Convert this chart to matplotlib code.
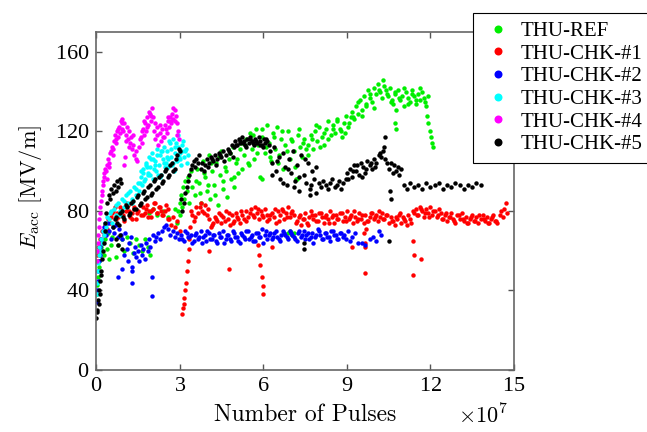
import numpy as np
import matplotlib
matplotlib.use('Agg')
import matplotlib.pyplot as plt

plt.rcParams['mathtext.fontset'] = 'cm'
plt.rcParams['axes.formatter.use_mathtext'] = True

# x in units of 1e7 pulses, y = Eacc in MV/m
ref_x = [0.02, 0.04, 0.06, 0.09, 0.12, 0.15, 0.18, 0.22, 0.26, 0.30, 0.34, 0.38, 0.43, 0.48, 0.53, 0.58,
         0.70, 0.80, 0.92, 1.02, 1.12, 1.22, 1.33, 1.45, 1.56, 1.66, 1.76, 1.86, 1.95,
         1.90, 2.05, 2.20, 2.40, 2.60, 2.85,
         2.92, 2.96, 3.00, 3.03, 3.06, 3.10, 3.13, 3.17, 3.20, 3.25, 3.30, 3.35, 3.40, 3.45,
         3.55, 3.62, 3.70, 3.76, 3.83, 3.90, 3.97, 4.04, 4.10, 4.17, 4.24, 4.30, 4.37, 4.44, 4.50, 4.57,
         4.63, 4.70, 4.77, 4.84, 4.90, 4.97, 5.04, 5.10, 5.17, 5.24,
         3.58, 3.73, 3.87, 4.01, 4.14, 4.28, 4.41, 4.54, 4.67, 4.81, 4.94, 5.07, 5.20,
         5.30, 5.38, 5.45, 5.52, 5.60, 5.68, 5.75, 5.82, 5.90, 5.97, 6.05, 6.12, 6.20, 6.28, 6.35, 6.42,
         6.50, 6.58, 6.65, 6.72, 6.80, 6.88, 6.95, 7.02, 7.10, 7.18, 7.25, 7.33, 7.40, 7.48, 7.55,
         7.62, 7.70, 7.78, 7.86, 7.94, 8.02, 8.10, 8.18, 8.26, 8.34, 8.42, 8.50, 8.58, 8.66, 8.74, 8.82,
         8.90, 8.98, 9.06, 9.14,
         9.20, 9.27, 9.34, 9.41, 9.48, 9.55, 9.62, 9.69, 9.76, 9.83, 9.90, 9.97, 10.04, 10.11, 10.18,
         10.25, 10.32, 10.40, 10.47, 10.55, 10.62,
         10.66, 10.72, 10.78, 10.85, 10.92, 10.99, 11.06, 11.13, 11.20, 11.27, 11.34, 11.41, 11.48, 11.55,
         11.62, 11.69, 11.76, 11.83, 11.90,
         5.34, 5.49, 5.64, 5.79, 5.94, 6.09, 6.24, 6.39, 6.54, 6.69, 6.84, 6.99, 7.14, 7.29, 7.44,
         7.59, 7.74, 7.89, 8.04, 8.19, 8.34, 8.49, 8.64, 8.79, 8.94, 9.09, 9.24, 9.39, 9.54, 9.69,
         9.84, 9.99, 10.14, 10.29, 10.44, 10.59, 10.74, 10.89, 11.04, 11.19, 11.34, 11.49, 11.64, 11.79,
         11.88, 11.93, 11.97, 12.02, 12.06, 12.10,
         10.72, 10.76, 7.20, 5.95, 6.90, 6.95, 7.00, 7.05, 7.10]
ref_y = [38, 43, 47, 52, 55, 58, 62, 60, 64, 58, 66, 61, 69, 56, 63, 67,
         57, 63, 66, 60, 67, 64, 59, 66, 63, 60, 66, 62, 58,
         79, 81, 78, 80, 77, 81,
         74, 80, 84, 78, 88, 82, 92, 86, 95, 90, 97, 84, 100, 92,
         88, 101, 94, 84, 105, 97, 90, 108, 86, 100, 93, 104, 83, 98, 110, 91,
         102, 87, 106, 96, 112, 92, 104, 99, 111, 101,
         95, 89, 99, 93, 104, 88, 107, 95, 100, 109, 97, 106, 114,
         108, 116, 104, 119, 111, 106, 121, 113, 97, 117, 109, 123, 114, 105, 119, 111,
         122, 108, 116, 101, 113, 120, 106, 115, 110, 96, 118, 112, 107, 116, 111,
         113, 118, 111, 120, 115, 122, 117, 113, 121, 125, 118, 123, 119, 126, 121, 117,
         124, 128, 122, 127,
         130, 126, 133, 129, 136, 131, 138, 134, 141, 137, 135, 142, 139, 144, 140,
         137, 143, 141, 138, 142, 136,
         134, 139, 131, 141, 136, 138, 133, 140, 137, 135, 141, 138, 134, 139,
         136, 140, 137, 133, 138,
         113, 103, 118, 109, 121, 112, 107, 117, 104, 120, 110, 116, 102, 121, 114,
         108, 116, 123, 112, 119, 116, 121, 125, 120, 119, 124, 127, 135, 128, 133,
         139, 132, 141, 146, 139, 135, 140, 137, 142, 134, 139, 136, 142, 135,
         128, 124, 120, 117, 114, 112,
         124, 121, 96, 96, 69, 70, 69, 68, 69]

chk1_x = [0.02, 0.05, 0.08, 0.11, 0.15, 0.19, 0.23, 0.28, 0.33, 0.38, 0.44, 0.50,
          0.55, 0.62, 0.70, 0.77, 0.85, 0.92, 1.00, 1.07, 1.15, 1.22, 1.30, 1.37, 1.45, 1.52,
          1.60, 1.67, 1.75, 1.82, 1.90, 1.97, 2.05, 2.12, 2.20, 2.27, 2.35, 2.42, 2.50, 2.57,
          0.58, 0.68, 0.78, 0.88, 0.98, 1.08, 1.18, 1.28, 1.38, 1.48, 1.58, 1.68, 1.78, 1.88,
          1.98, 2.08, 2.18, 2.28, 2.38, 2.48, 2.58,
          2.63, 2.70, 2.78, 2.85, 2.92, 3.00,
          3.10, 3.12, 3.14, 3.17, 3.20, 3.23, 3.26, 3.29, 3.32, 3.35,
          3.38, 3.45, 3.52, 3.60, 3.67, 3.75, 3.82, 3.90, 3.97, 4.05, 4.12, 4.20,
          4.27, 4.35, 4.42, 4.50, 4.57, 4.65, 4.72, 4.80, 4.87, 4.95, 5.02, 5.10, 5.17,
          5.25, 5.32, 5.40, 5.47, 5.55, 5.62, 5.70, 5.77, 5.85, 5.92, 6.00, 6.07, 6.15,
          3.42, 3.57, 3.72, 3.87, 4.02, 4.17, 4.32, 4.47, 4.62, 4.77, 4.92, 5.07, 5.22, 5.37,
          5.52, 5.67, 5.82, 5.97, 6.12,
          5.80, 5.85, 5.90, 5.95, 5.98, 6.01, 4.77, 4.05, 6.30,
          6.22, 6.30, 6.37, 6.45, 6.52, 6.60, 6.67, 6.75, 6.82, 6.90, 6.97, 7.05, 7.12, 7.20,
          7.27, 7.35, 7.42, 7.50, 7.57, 7.65, 7.72, 7.80, 7.87, 7.95, 8.02, 8.10, 8.17, 8.25,
          8.32, 8.40, 8.47, 8.55, 8.62, 8.70, 8.77, 8.85, 8.92, 9.00, 9.07, 9.15, 9.22, 9.30,
          9.37, 9.45,
          9.18, 9.62, 9.65, 9.66, 9.64, 9.70, 11.37, 11.40, 11.38, 11.66,
          9.52, 9.60, 9.67, 9.75, 9.82, 9.90, 9.97, 10.05, 10.12, 10.20, 10.27, 10.35, 10.42,
          10.50, 10.57, 10.65, 10.72, 10.80, 10.87, 10.95, 11.02, 11.10, 11.17, 11.25, 11.32,
          11.40, 11.47, 11.55, 11.62, 11.70, 11.77, 11.85, 11.92, 12.00, 12.07, 12.15, 12.22,
          12.30, 12.37, 12.45, 12.52, 12.60, 12.67, 12.75, 12.82, 12.90, 12.97, 13.05, 13.12,
          13.20, 13.27, 13.35, 13.42, 13.50, 13.57, 13.65, 13.72, 13.80, 13.87, 13.95, 14.02,
          14.10, 14.17, 14.25, 14.32, 14.40,
          6.26, 6.41, 6.56, 6.71, 6.86, 7.01, 7.16, 7.31, 7.46, 7.61, 7.76, 7.91, 8.06, 8.21,
          8.36, 8.51, 8.66, 8.81, 8.96, 9.11, 9.26, 9.41, 9.56, 9.71, 9.86, 10.01, 10.16, 10.31,
          10.46, 10.61, 10.76, 10.91, 11.06, 11.21, 11.36, 11.51, 11.66, 11.81, 11.96, 12.11,
          12.26, 12.41, 12.56, 12.71, 12.86, 13.01, 13.16, 13.31, 13.46, 13.61, 13.76, 13.91,
          14.06, 14.21, 14.36,
          14.48, 14.55, 14.60, 14.65, 14.70, 14.75]
chk1_y = [55, 58, 62, 60, 66, 64, 70, 68, 73, 71, 76, 74,
          77, 80, 76, 79, 82, 78, 75, 80, 83, 77, 79, 81, 76, 80,
          78, 82, 79, 83, 80, 77, 81, 84, 79, 82, 80, 78, 83, 81,
          79, 82, 77, 81, 78, 84, 80, 76, 82, 79, 83, 78, 81, 77,
          80, 84, 79, 82, 78, 80, 76,
          76, 73, 77, 72, 75, 70,
          28, 31, 33, 36, 40, 44, 50, 55, 61, 66,
          72, 78, 75, 82, 79, 84, 80, 83, 78, 76, 72, 74,
          77, 75, 79, 74, 77, 80, 76, 73, 78, 75, 79, 76, 74,
          78, 76, 80, 77, 81, 78, 82, 79, 76, 80, 77, 81, 78,
          80, 77, 82, 79, 81, 73, 76, 78, 75, 79, 74, 77, 80, 75,
          79, 77, 81, 78, 75,
          63, 58, 53, 47, 42, 38, 51, 60, 62,
          76, 79, 77, 74, 80, 78, 81, 76, 79, 82, 77, 80, 78, 75,
          77, 73, 76, 79, 74, 77, 80, 76, 78, 75, 79, 77, 74, 78,
          76, 80, 77, 74, 78, 76, 79, 75, 77, 80, 76, 78, 74, 77,
          75, 79,
          62, 69, 64, 62, 49, 71, 65, 58, 48, 56,
          76, 74, 78, 75, 77, 79, 76, 78, 75, 77, 79, 76, 78,
          74, 77, 75, 73, 76, 78, 74, 77, 75, 73, 76, 74,
          79, 81, 78, 82, 80, 77, 81, 79, 82, 78, 80, 77,
          81, 79, 76, 78, 75, 77, 79, 76, 74, 78, 76, 79,
          75, 77, 74, 76, 78, 75, 77, 74, 76, 78, 75, 77,
          74, 76, 78, 75, 74,
          78, 81, 75, 80, 77, 79, 74, 78, 76, 73, 78, 75, 79, 77,
          74, 78, 76, 79, 75, 77, 80, 76, 78, 75, 79, 77, 80, 76,
          78, 75, 77, 79, 76, 78, 80, 78, 81, 79, 77, 80,
          78, 76, 79, 77, 75, 78, 76, 74, 77, 75, 78, 76,
          74, 77, 75,
          78, 80, 77, 81, 84, 79]

chk2_x = [0.02, 0.04, 0.06, 0.08, 0.10, 0.13, 0.16, 0.19, 0.22, 0.26,
          0.30, 0.36, 0.42, 0.48, 0.54, 0.60, 0.66, 0.72, 0.78, 0.84, 0.90,
          0.95, 1.00, 1.05, 1.10, 1.15, 1.20, 1.25, 1.30, 1.35, 1.40, 1.45, 1.50, 1.55,
          1.60, 1.65, 1.70, 1.75, 1.80, 1.85, 1.90, 1.95, 2.00, 2.02, 2.05, 2.10,
          0.80, 0.92, 1.28, 1.30,
          2.15, 2.22, 2.30, 2.37, 2.45, 2.52, 2.60, 2.67, 2.75, 2.82, 2.90, 2.97,
          3.05, 3.15, 3.25, 3.35, 3.45, 3.55, 3.65, 3.75, 3.85, 3.95, 4.05, 4.15, 4.25, 4.35,
          4.45, 4.55, 4.65, 4.75, 4.85, 4.95, 5.05, 5.15, 5.25, 5.35, 5.45, 5.55, 5.65, 5.75,
          5.85, 5.95, 6.05, 6.15, 6.25, 6.35, 6.45, 6.55, 6.65, 6.75, 6.85, 6.95, 7.05, 7.15,
          7.25, 7.35, 7.45, 7.55, 7.65, 7.75, 7.85, 7.95, 8.05, 8.15, 8.25, 8.35, 8.45, 8.55,
          8.65, 8.75, 8.85,
          3.10, 3.20, 3.30, 3.40, 3.50, 3.60, 3.70, 3.80, 3.90, 4.00, 4.10, 4.20, 4.30, 4.40,
          4.50, 4.60, 4.70, 4.80, 4.90, 5.00, 5.10, 5.20, 5.30, 5.40, 5.50, 5.60, 5.70, 5.80,
          5.90, 6.00, 6.10, 6.20, 6.30, 6.40, 6.50, 6.60, 6.70, 6.80, 6.90, 7.00, 7.10, 7.20,
          7.30, 7.40, 7.50, 7.60, 7.70, 7.80, 7.90, 8.00, 8.10, 8.20, 8.30, 8.40, 8.50, 8.60,
          8.70, 8.80,
          8.90, 8.97, 9.05, 9.12, 9.20, 9.30, 9.40, 9.55, 9.65, 9.85, 9.95, 10.05, 10.15, 10.22]
chk2_y = [34, 40, 45, 50, 55, 58, 62, 66, 64, 70,
          72, 68, 74, 70, 66, 72, 69, 73, 67, 71, 68,
          66, 58, 69, 61, 55, 64, 67, 52, 59, 62, 57, 60, 55,
          63, 58, 61, 56, 64, 60, 66, 62, 47, 37, 68, 65,
          47, 51, 50, 44,
          67, 69, 66, 70, 72, 73, 71, 68, 70, 67, 69, 66,
          68, 65, 69, 67, 64, 68, 66, 70, 67, 65, 69, 66, 68, 64,
          67, 70, 66, 68, 65, 69, 67, 64, 68, 66, 70, 67, 65, 69,
          67, 71, 68, 66, 69, 67, 70, 66, 68, 69, 67, 70, 68, 66,
          69, 67, 70, 68, 66, 69, 67, 71, 68, 66, 69, 67, 70, 68,
          66, 69, 67,
          66, 70, 67, 68, 65, 69, 67, 64, 68, 70, 66, 68, 65, 69,
          67, 64, 68, 66, 70, 67, 65, 69, 67, 70, 66, 68, 65, 69,
          67, 64, 70, 68, 66, 69, 67, 65, 70, 68, 66, 69, 67, 65,
          70, 68, 66, 69, 67, 64, 68, 70, 66, 69, 67, 65, 70, 68,
          66, 69,
          68, 66, 70, 65, 67, 69, 64, 64, 63, 66, 67, 65, 70, 68]

chk3_x = [0.02, 0.04, 0.06, 0.08, 0.10, 0.12, 0.15, 0.18, 0.21, 0.24, 0.28, 0.32, 0.36, 0.40,
          0.45, 0.52, 0.59, 0.66, 0.73, 0.80, 0.87, 0.94, 1.01, 1.08, 1.15, 1.22, 1.29, 1.36,
          1.43, 1.50,
          1.55, 1.60, 1.65, 1.70, 1.75, 1.80, 1.85, 1.90, 1.95, 2.00, 2.05, 2.10, 2.15, 2.20,
          2.25, 2.30, 2.35, 2.40, 2.45, 2.50,
          2.55, 2.60, 2.65, 2.70, 2.75, 2.80, 2.85, 2.90, 2.95, 3.00, 3.05, 3.10, 3.15, 3.20,
          3.25, 3.30,
          1.58, 1.68, 1.78, 1.88, 1.98, 2.08, 2.18, 2.28, 2.38, 2.48, 2.58, 2.68, 2.78, 2.88,
          2.98, 3.08,
          0.55, 0.70, 0.85, 1.00, 1.15, 1.30, 1.45, 1.62, 1.72, 1.83, 1.93, 2.03, 2.13, 2.23,
          2.33, 2.43, 2.53, 2.63, 2.73, 2.83, 2.93, 3.03, 3.13, 3.23]
chk3_y = [38, 44, 50, 54, 58, 62, 60, 66, 64, 70, 68, 74, 72, 77,
          76, 79, 74, 81, 78, 84, 80, 86, 82, 88, 84, 90, 86, 92,
          88, 94,
          90, 97, 93, 101, 96, 104, 99, 107, 102, 109, 96, 105, 100, 111,
          103, 108, 98, 106, 112, 104,
          110, 102, 114, 107, 116, 100, 112, 105, 118, 109, 103, 113, 107, 110,
          104, 108,
          94, 99, 103, 98, 106, 101, 108, 97, 110, 102, 106, 111, 104, 114,
          107, 110,
          80, 83, 78, 85, 89, 84, 91, 100, 95, 102, 98, 106, 103, 98,
          110, 104, 107, 115, 103, 109, 112, 106, 115, 111]

chk4_x = [0.02, 0.04, 0.06, 0.08, 0.10, 0.12, 0.14, 0.16, 0.18, 0.20, 0.22, 0.24, 0.26, 0.28,
          0.30, 0.33,
          0.36, 0.40, 0.44, 0.48, 0.52, 0.56, 0.60, 0.64, 0.68, 0.72, 0.76, 0.80, 0.84, 0.88,
          0.92, 0.95,
          0.98, 1.02, 1.06, 1.10, 1.14, 1.18, 1.22, 1.26, 1.30, 1.34, 1.38, 1.42, 1.46, 1.00, 1.04,
          1.55, 1.60, 1.64, 1.68, 1.72, 1.76, 1.80, 1.84, 1.88, 1.92, 1.96, 2.00, 2.04,
          2.08, 2.13, 2.18, 2.23, 2.28, 2.33, 2.38, 2.43, 2.48, 2.53, 2.58,
          2.62, 2.66, 2.70, 2.74, 2.78, 2.82, 2.86, 2.90, 2.94, 2.98,
          0.38, 0.46, 0.54, 0.62, 0.70, 0.78, 0.86, 0.93, 1.08, 1.20, 1.32, 1.44, 1.58, 1.66,
          1.74, 1.82, 1.90, 1.98, 2.10, 2.20, 2.30, 2.40, 2.50, 2.60, 2.68, 2.76, 2.84, 2.92]
chk4_y = [55, 60, 64, 68, 72, 76, 79, 82, 85, 88, 90, 93, 95, 97,
          99, 101,
          100, 103, 106, 102, 109, 112, 108, 115, 118, 114, 120, 117, 122, 125,
          121, 126,
          120, 124, 118, 122, 116, 120, 114, 117, 111, 113, 108, 110, 105, 103, 107,
          112, 117, 114, 121, 118, 124, 120, 127, 123, 129, 125, 132, 127,
          120, 116, 122, 113, 119, 115, 121, 117, 123, 119, 125,
          122, 127, 124, 129, 126, 131, 128, 124, 120, 116,
          96, 104, 110, 111, 116, 121, 119, 124, 115, 112, 118, 106, 116, 120,
          125, 122, 130, 128, 124, 118, 123, 117, 121, 127, 125, 132, 125, 118]

chk5_x = [0.01, 0.03, 0.05, 0.07, 0.09, 0.11, 0.13, 0.15, 0.17, 0.19, 0.22, 0.25, 0.28, 0.31,
          0.34, 0.37,
          0.40, 0.45, 0.50, 0.55, 0.60, 0.65, 0.70, 0.75, 0.80, 0.85, 0.90,
          0.62, 0.72, 0.82, 0.92, 1.02, 1.12, 1.22, 1.32, 1.42, 1.52, 1.62, 1.72, 1.82, 1.92,
          2.02, 2.12, 2.22, 2.32, 2.42, 2.52, 2.62, 2.72, 2.82, 2.92,
          0.70, 0.78, 0.86, 0.94,
          0.67, 0.77, 0.87, 0.97, 1.07, 1.17, 1.27, 1.37, 1.47, 1.57, 1.67, 1.77, 1.87, 1.97,
          2.07, 2.17, 2.27, 2.37, 2.47, 2.57, 2.67, 2.77, 2.87, 2.97,
          3.00, 3.05, 3.10, 3.15, 3.20, 3.25, 3.30, 3.35, 3.40, 3.45, 3.50, 3.55, 3.60, 3.65, 3.70,
          3.75, 3.82, 3.90, 3.97, 4.05, 4.12, 4.20, 4.27, 4.35, 4.42, 4.50, 4.57, 4.65, 4.72,
          4.80, 4.87, 4.95,
          3.86, 4.01, 4.16, 4.31, 4.46, 4.61, 4.76, 4.91,
          5.00, 5.06, 5.12, 5.18, 5.24, 5.30, 5.36, 5.42, 5.48, 5.54, 5.60, 5.66, 5.72, 5.78,
          5.84, 5.90, 5.96, 6.02, 6.08, 6.14, 6.20,
          5.03, 5.15, 5.27, 5.39, 5.51, 5.63, 5.75, 5.87, 5.99, 6.11,
          6.25, 6.32, 6.40, 6.47, 6.55, 6.62, 6.70, 6.77, 6.85, 6.92, 7.00, 7.07, 7.15, 7.22,
          7.30, 7.37, 7.45, 7.52, 7.60, 7.67, 7.75, 7.82, 7.90,
          6.30, 6.50, 6.70, 6.90, 7.10, 7.30, 7.50, 7.70, 7.90,
          8.00, 8.08, 8.16, 8.24, 8.32, 8.40, 8.48, 8.56, 8.64, 8.72, 8.80, 8.88, 8.96,
          9.02, 9.10, 9.18, 9.26, 9.34, 9.42, 9.50, 9.58, 9.66, 9.74, 9.82, 9.90, 9.98, 10.06,
          10.14, 10.22, 10.30, 10.38, 10.46,
          9.06, 9.22, 9.38, 9.54, 9.70, 9.86, 10.02, 10.18, 10.34,
          10.52, 10.58, 10.64, 10.70, 10.76, 10.82, 10.88, 10.94,
          11.05, 11.15, 11.25, 11.40, 11.55, 11.70, 11.85, 12.00, 12.15, 12.30, 12.45, 12.60,
          12.75, 12.90, 13.05, 13.20, 13.35, 13.50, 13.65, 13.80,
          10.55, 10.58, 10.37, 10.50, 7.46, 7.48, 7.68]
chk5_y = [26, 30, 29, 35, 33, 40, 38, 45, 50, 48, 56, 60, 64, 70,
          74, 79,
          84, 88, 86, 91, 89, 93, 90, 95, 92, 96, 94,
          72, 77, 73, 80, 76, 82, 79, 85, 81, 88, 84, 90, 87, 93,
          89, 96, 92, 98, 95, 101, 98, 104, 101, 108,
          66, 63, 68, 61,
          76, 74, 79, 77, 83, 78, 84, 81, 87, 83, 89, 86, 92, 88,
          95, 91, 97, 94, 100, 97, 103, 100, 106, 111,
          110, 86, 80, 84, 89, 92, 95, 98, 101, 103, 105, 102, 106, 104, 108,
          101, 104, 103, 106, 104, 107, 105, 108, 106, 109, 107, 110, 108, 111,
          109, 113, 112,
          100, 102, 106, 103, 108, 105, 110, 107,
          115, 113, 116, 114, 117, 115, 113, 116, 114, 117, 115, 113, 116, 114,
          117, 115, 113, 116, 114, 115, 113,
          113, 115, 114, 112, 116, 114, 115, 113, 112, 116,
          110, 104, 112, 100, 107, 96, 109, 102, 93, 106, 99, 110, 95, 103,
          90, 108, 98, 94, 104, 91, 100, 96, 102,
          98, 105, 94, 101, 92, 97, 106, 93, 89,
          94, 92, 95, 93, 91, 94, 96, 92, 93, 95, 91, 94, 96,
          99, 101, 97, 103, 100, 98, 104, 102, 99, 105, 103, 101, 106, 104,
          108, 107, 110, 106, 104,
          96, 100, 103, 97, 101, 104, 102, 109, 112,
          101, 104, 99, 103, 100, 102, 98, 101,
          93, 91, 94, 92, 93, 91, 94, 92, 93, 94, 91, 93,
          92, 94, 93, 91, 93, 92, 94, 93,
          90, 86, 117, 65, 64, 61, 88]

series = [
    ('THU-REF', ref_x, ref_y, '#00ee00'),
    ('THU-CHK-#1', chk1_x, chk1_y, '#ff0000'),
    ('THU-CHK-#2', chk2_x, chk2_y, '#0000ff'),
    ('THU-CHK-#3', chk3_x, chk3_y, '#00ffff'),
    ('THU-CHK-#4', chk4_x, chk4_y, '#ff00ff'),
    ('THU-CHK-#5', chk5_x, chk5_y, '#000000'),
]

fig = plt.figure(figsize=(6.47, 4.32), dpi=100)
ax = fig.add_axes([96 / 647, 62 / 432, 418 / 647, 338 / 432])

for name, xs, ys, col in series:
    ax.plot(xs, ys, 'o', ms=3.2, mew=0, color=col, label=name)

ax.set_xlim(0, 15)
ax.set_ylim(0, 170)
ax.set_xticks([0, 3, 6, 9, 12, 15])
ax.set_yticks([0, 40, 80, 120, 160])

tick_font = 'Liberation Serif'
for lab in ax.get_xticklabels() + ax.get_yticklabels():
    lab.set_fontfamily(tick_font)
    lab.set_fontsize(16)

ax.tick_params(direction='in', length=4, width=1, color='#555555',
               top=True, right=True, pad=5)
for sp in ax.spines.values():
    sp.set_color('#666666')
    sp.set_linewidth(1.2)

ax.set_xlabel('Number of Pulses', fontfamily='cmr10', fontsize=17, labelpad=6)
ax.set_ylabel(r'$E_{\rm acc}$ [MV/m]', fontfamily='cmr10', fontsize=16)
ax.yaxis.set_label_coords(-0.125, 0.54)
fig.text(508 / 647, 4 / 432, r'$\times10^{7}$', fontsize=16, ha='right', va='bottom')

leg = ax.legend(loc='upper left', bbox_to_anchor=(473 / 647, 1 - 13 / 432),
                bbox_transform=fig.transFigure, borderaxespad=0,
                prop={'family': 'Liberation Serif', 'size': 15},
                markerscale=1.8, handlelength=1.6, handletextpad=0.3,
                borderpad=0.4, labelspacing=0.15, fancybox=False,
                framealpha=1, edgecolor='black')
leg.get_frame().set_linewidth(0.8)

fig.savefig('out.png', dpi=100)
